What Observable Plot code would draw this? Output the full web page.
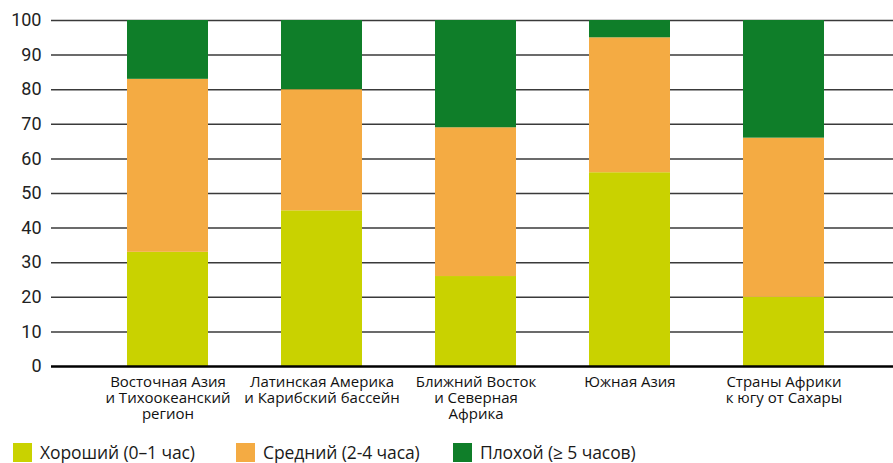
<!DOCTYPE html>
<html>
<head>
<meta charset="utf-8">
<script src="https://cdn.jsdelivr.net/npm/d3@7"></script>
<script src="https://cdn.jsdelivr.net/npm/@observablehq/plot@0.6"></script>
<style>
  html, body { margin: 0; padding: 0; background: #fff; }
  #wrap { position: relative; width: 893px; height: 463px; overflow: hidden; }
  #chart { position: absolute; left: 0; top: 0; }
  .lg { position: absolute; top: 440px; display: flex; align-items: center; font-family: "Open Sans", sans-serif; font-size: 17.5px; color: #1a1a1a; white-space: nowrap; letter-spacing: -0.1px; }
  .sw { width: 19px; height: 19px; margin-right: 8px; }
</style>
</head>
<body>
<div id="wrap">
  <div id="chart"></div>
  <div id="legend"></div>
</div>
<script>
const regions = [
  "Восточная Азия\nи Тихоокеанский\nрегион",
  "Латинская Америка\nи Карибский бассейн",
  "Ближний Восток\nи Северная\nАфрика",
  "Южная Азия",
  "Страны Африки\nк югу от Сахары"
];
const series = ["Хороший (0–1 час)", "Средний (2-4 часа)", "Плохой (≥ 5 часов)"];
const colors = ["#c9d200", "#f4ab43", "#0f7e29"];
const good = [33, 45, 26, 56, 20];
const medium = [50, 35, 43, 39, 46];
const poor = [17, 20, 31, 5, 34];
const yTicks = [0, 10, 20, 30, 40, 50, 60, 70, 80, 90, 100];
const legendX = [13, 236, 453];

const values = [good, medium, poor];
const data = [];
series.forEach((s, si) => {
  regions.forEach((r, ri) => data.push({region: r, series: s, value: values[si][ri]}));
});

const chart = Plot.plot({
  width: 893,
  height: 432,
  marginLeft: 51,
  marginRight: 0,
  marginTop: 20,
  marginBottom: 66,
  style: {background: "transparent"},
  x: {domain: regions, range: [57, 893], paddingInner: 0.475, paddingOuter: 0.447, label: null},
  y: {domain: [0, 100], label: null},
  color: {domain: series, range: colors},
  marks: [
    Plot.ruleY(yTicks.filter(d => d > 0), {stroke: "#3a3a3a", strokeWidth: 1.5}),
    Plot.barY(data, {x: "region", y: "value", fill: "series", order: series}),
    Plot.ruleY([0], {stroke: "#000", strokeWidth: 2.5}),
    Plot.axisY({ticks: yTicks, tickSize: 0, tickPadding: 10, fontSize: 18, fontFamily: "Roboto, sans-serif", fill: "#222", label: null}),
    Plot.axisX({tickSize: 0, tickPadding: 9, fontSize: 15, fontFamily: "Open Sans, sans-serif", fill: "#111", lineHeight: 1.07, label: null})
  ]
});
document.getElementById("chart").appendChild(chart);

const legend = document.getElementById("legend");
series.forEach((s, i) => {
  const item = document.createElement("div");
  item.className = "lg";
  item.style.left = legendX[i] + "px";
  const sw = document.createElement("div");
  sw.className = "sw";
  sw.style.background = colors[i];
  const t = document.createElement("span");
  t.textContent = s;
  item.appendChild(sw);
  item.appendChild(t);
  legend.appendChild(item);
});
</script>
</body>
</html>
